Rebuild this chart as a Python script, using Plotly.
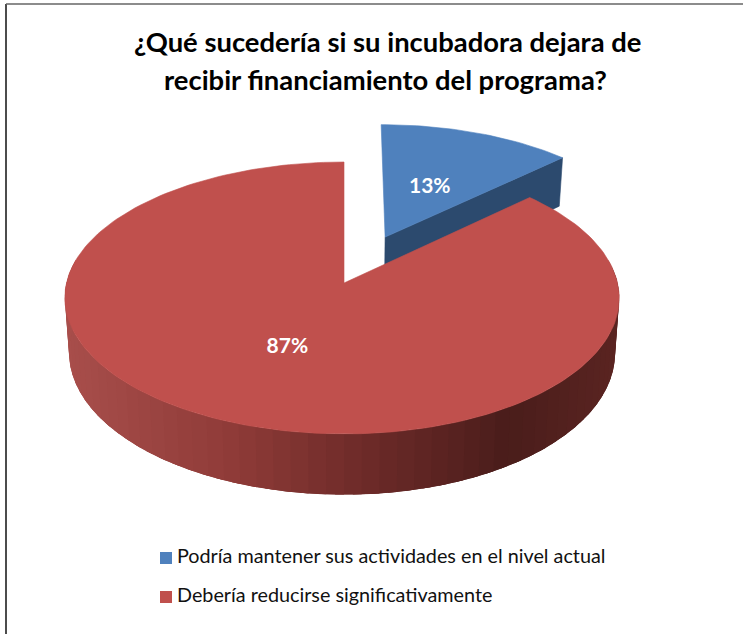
import numpy as np
import plotly.graph_objects as go

title_lines = ["¿Qué sucedería si su incubadora dejara de", "recibir financiamiento del programa?"]
categories = ["Podría mantener sus actividades en el nivel actual", "Debería reducirse significativamente"]
shares = [13, 87]
labels = ["13%", "87%"]
top_colors = ["#4F81BD", "#C0504D"]
blue_wall = "#2C4A6E"
rim_stops = [(0.0, (168, 78, 75)), (0.3, (143, 59, 56)), (0.55, (108, 42, 40)),
             (0.8, (74, 29, 27)), (1.0, (90, 36, 33))]

# 3-D projection of the pie disk onto the page
AX, AY = 344.0, 283.0
RX, RY = 275.5, 134.3
K = 0.11
DEPTH = 54.0
SHRINK = 0.985
SKEW = 2.0
EXPLODE_U, EXPLODE_V = 0.155, -0.355


def project(u, v, lower=False, skew=SKEW):
    u = np.asarray(u, float)
    v = np.asarray(v, float)
    den = 1 - K * v
    x = AX + RX * u / den - skew * u ** 2
    y = AY + RY * v / den
    if lower:
        x = AX + (x - AX) * SHRINK
        y = y + DEPTH / den
    return x, y


def disk(theta_deg, r=1.0, du=0.0, dv=0.0):
    t = np.radians(theta_deg)
    return du + r * np.sin(t), dv - r * np.cos(t)


def rim_color(t):
    ts = [s[0] for s in rim_stops]
    c = [np.interp(t, ts, [s[1][i] for s in rim_stops]) for i in range(3)]
    return "rgb(%d,%d,%d)" % tuple(int(round(a)) for a in c)


def poly(x, y, color, width=0.6):
    return go.Scatter(x=x, y=y, mode="lines", fill="toself", fillcolor=color,
                      line=dict(color=color, width=width), hoverinfo="skip", showlegend=False)


fig = go.Figure()
cut = shares[0] / sum(shares) * 360

# blue slice: cut wall, then top face
u0, v0 = EXPLODE_U, EXPLODE_V
ur, vr = disk(cut, 1, u0, v0)
xa, ya = project(u0, v0, skew=0)
xb, yb = project(ur, vr, skew=0)
xc, yc = project(ur, vr, True, skew=0)
xd, yd = project(u0, v0, True, skew=0)
fig.add_trace(poly([xa, xb, xc, xd, xa], [ya, yb, yc, yd, ya], blue_wall))
th = np.linspace(0, cut, 40)
ub, vb = disk(th, 1, u0, v0)
xt, yt = project(ub, vb, skew=0)
fig.add_trace(poly(np.r_[xa, xt, xa], np.r_[ya, yt, ya], top_colors[0]))

# red slice: rim strips (each overlaps the next so no seams show), then top face
edges = np.linspace(80, 280, 61)
for a, b in zip(edges[:-1], edges[1:]):
    span = np.linspace(a, min(b + 5, 280), 6)
    ua, va = disk(span)
    x1, y1 = project(ua, va)
    x2, y2 = project(ua, va, True)
    xm = project(*disk((a + b) / 2))[0]
    t = (xm - 65) / 554
    fig.add_trace(poly(np.r_[x1, x2[::-1], x1[0]], np.r_[y1, y2[::-1], y1[0]], rim_color(t), 0))
th = np.linspace(cut, 360, 200)
ue, ve = disk(th)
xt, yt = project(ue, ve)
fig.add_trace(poly(np.r_[AX, xt, AX], np.r_[AY, yt, AY], top_colors[1]))

# data labels
lx0, ly0 = project(*disk(cut / 2, 0.45, u0, v0), skew=0)
lx1, ly1 = project(*disk(cut + (360 - cut) / 2, 0.5))
fig.add_trace(go.Scatter(x=[lx0 + 1, lx1 + 1], y=[ly0, ly1], mode="text", text=labels,
                         textfont=dict(family="Lato", size=21, color="white", weight="bold"),
                         textposition="middle center", hoverinfo="skip", showlegend=False))

# legend
for cat, col, ypos in zip(categories, top_colors, [558, 597]):
    fig.add_trace(go.Scatter(x=[166], y=[ypos], mode="markers+text", text=["\u200a\u200a" + cat],
                             textposition="middle right",
                             marker=dict(symbol="square", size=12, color=col, line=dict(width=0)),
                             textfont=dict(family="Lato", size=19.8, color="#111111"),
                             hoverinfo="skip", showlegend=False, cliponaxis=False))

title_font = dict(family="Lato", size=27.4, color="#000000", weight="bold")
fig.update_layout(
    width=743, height=634, autosize=False,
    margin=dict(l=0, r=0, t=0, b=0),
    paper_bgcolor="white", plot_bgcolor="white",
    xaxis=dict(range=[0, 743], visible=False, fixedrange=True),
    yaxis=dict(range=[634, 0], visible=False, fixedrange=True),
    annotations=[
        dict(text=title_lines[0], x=387, y=41, xref="x", yref="y", showarrow=False, font=title_font),
        dict(text=title_lines[1], x=385, y=79, xref="x", yref="y", showarrow=False, font=title_font),
    ],
    shapes=[
        dict(type="line", xref="x", yref="y", x0=6, x1=6, y0=4, y1=634, line=dict(color="#111111", width=1.5)),
        dict(type="line", xref="x", yref="y", x0=6, x1=743, y0=4, y1=4, line=dict(color="#666666", width=1.5)),
    ],
)
fig.write_html("out.html", config=dict(displayModeBar=False),
               post_script="document.body.style.margin='0';document.body.style.overflow='hidden';")
